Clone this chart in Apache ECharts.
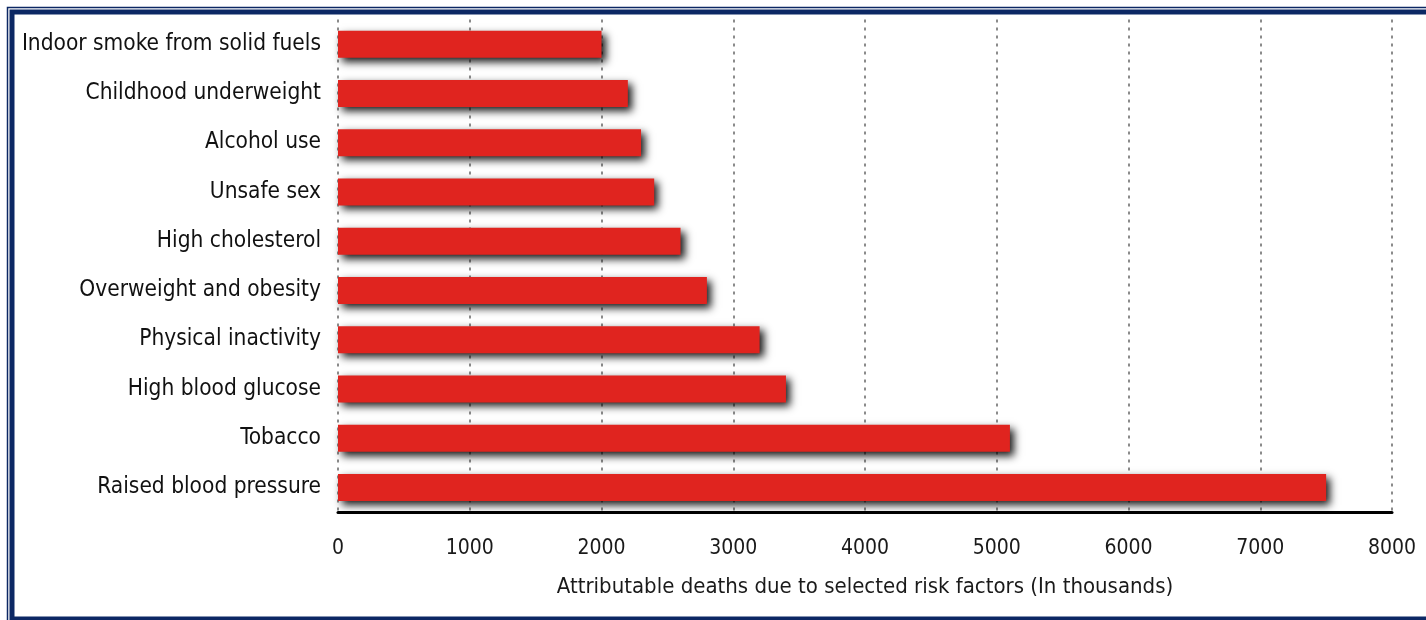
<!DOCTYPE html>
<html>
<head>
<meta charset="utf-8">
<script src="https://cdn.jsdelivr.net/npm/echarts@6/dist/echarts.min.js"></script>
<style>
  html, body { margin: 0; padding: 0; background: #fff; }
  #chart { width: 1426px; height: 620px; }
</style>
</head>
<body>
<div id="chart"></div>
<script>
// risk factors, bottom to top as drawn on the category axis
const categories = [
  'Raised blood pressure',
  'Tobacco',
  'High blood glucose',
  'Physical inactivity',
  'Overweight and obesity',
  'High cholesterol',
  'Unsafe sex',
  'Alcohol use',
  'Childhood underweight',
  'Indoor smoke from solid fuels'
]
const deaths = [7500, 5100, 3400, 3200, 2800, 2600, 2400, 2300, 2200, 2000]
const axisName = 'Attributable deaths due to selected risk factors (In thousands)'

const font = '"Liberation Sans Narrow", "DejaVu Sans Condensed", sans-serif'
const navy = '#0c2864'

let chart = echarts.init(document.getElementById('chart'))

let option = {
  animation: false,
  grid: {
    left: 338,
    right: 34,
    top: 19.5,
    bottom: 108
  },
  xAxis: {
    type: 'value',
    min: 0,
    max: 8000,
    interval: 1000,
    name: axisName,
    nameLocation: 'middle',
    nameGap: 64,
    nameTextStyle: { fontFamily: font, fontSize: 22, color: '#1a1a1a' },
    axisLine: { show: true, lineStyle: { color: '#000', width: 3 } },
    axisTick: { show: false },
    axisLabel: {
      fontFamily: font, fontSize: 21, color: '#1a1a1a', margin: 26,
      formatter: v => String(v)
    },
    splitLine: {
      show: true,
      lineStyle: { color: '#666', type: [3, 5], width: 1.5 }
    }
  },
  yAxis: {
    type: 'category',
    data: categories,
    axisLine: { show: false },
    axisTick: { show: false },
    axisLabel: { fontFamily: font, fontSize: 22.5, color: '#111', margin: 17 }
  },
  series: [
    {
      name: 'deaths',
      type: 'bar',
      data: deaths,
      barWidth: 27,
      itemStyle: {
        color: '#e0241f',
        shadowColor: 'rgba(0,0,0,0.9)',
        shadowBlur: 8,
        shadowOffsetX: 4,
        shadowOffsetY: 4
      }
    }
  ],
  graphic: [
    {
      type: 'rect',
      shape: { x: 7.5, y: 7.5, width: 1440, height: 620 },
      style: { fill: 'none', stroke: navy, lineWidth: 1.5 }
    },
    {
      type: 'rect',
      shape: { x: 12, y: 12, width: 1440, height: 607 },
      style: { fill: 'none', stroke: navy, lineWidth: 5 }
    }
  ]
}

chart.setOption(option)
</script>
</body>
</html>
